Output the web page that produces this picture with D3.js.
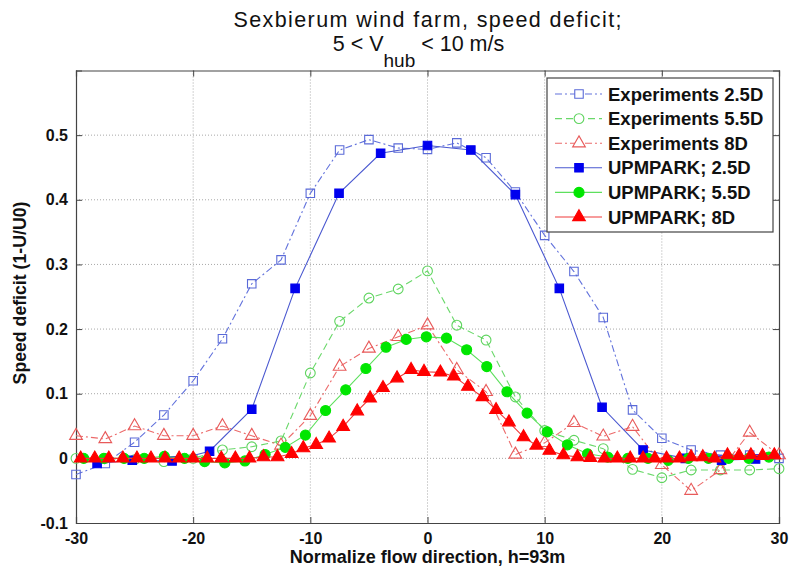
<!DOCTYPE html>
<html><head><meta charset="utf-8">
<script src="https://cdn.jsdelivr.net/npm/d3@7"></script>
<style>
body{margin:0;background:#fff}
text{font-family:"Liberation Sans",Arial,Helvetica,sans-serif}
</style></head>
<body><svg id="c" width="792" height="574"></svg>
<script>
// ---------- data ----------
const xTicks = [-30, -20, -10, 0, 10, 20, 30];
const yTicks = [-0.1, 0, 0.1, 0.2, 0.3, 0.4, 0.5];

const expX = [-30, -27.5, -25, -22.5, -20, -17.5, -15, -12.5, -10, -7.5, -5, -2.5, 0,
              2.5, 5, 7.5, 10, 12.5, 15, 17.5, 20, 22.5, 25, 27.5, 30];
const exp25 = [-0.025, -0.008, 0.025, 0.067, 0.12, 0.185, 0.27, 0.307, 0.41, 0.477, 0.493, 0.48, 0.478,
               0.488, 0.465, 0.412, 0.345, 0.289, 0.218, 0.075, 0.031, 0.013, 0.005, 0.005, 0.0];
const exp55 = [0.0, 0.0, -0.002, -0.005, 0.0, 0.013, 0.018, 0.027, 0.132, 0.212, 0.248, 0.262, 0.29,
               0.206, 0.183, 0.095, 0.043, 0.028, 0.015, -0.017, -0.03, -0.018, -0.018, -0.018, -0.016];
const exp8 = [0.035, 0.03, 0.05, 0.035, 0.035, 0.05, 0.035, 0.02, 0.066, 0.142, 0.17, 0.188, 0.206,
              0.137, 0.103, 0.006, 0.024, 0.055, 0.034, 0.049, -0.01, -0.05, -0.018, 0.04, 0.005];

const upmX25 = [-28.2, -25.2, -21.8, -18.6, -15, -11.3, -7.55, -4, 0, 3.7, 7.5, 11.25, 14.9, 18.4, 22, 25.1, 28];
const upm25 = [-0.008, -0.003, -0.004, 0.011, 0.076, 0.263, 0.41, 0.472, 0.484, 0.477, 0.408, 0.263, 0.079, 0.013, 0.0, -0.003, -0.001];

const upmX55 = [-29.34, -27.62, -25.9, -24.18, -22.46, -20.74, -19.02, -17.3, -15.58, -13.86, -12.14, -10.42,
                -8.7, -6.98, -5.26, -3.54, -1.82, -0.1, 1.62, 3.34, 5.06, 6.78, 8.5, 10.22, 11.94, 13.66,
                15.38, 17.1, 18.82, 20.54, 22.26, 23.98, 25.7, 27.42, 29.14];
const upm55 = [0.0, 0.0, 0.0, 0.0, 0.003, 0.0, -0.005, -0.007, -0.004, 0.006, 0.017, 0.036,
               0.074, 0.106, 0.139, 0.172, 0.184, 0.188, 0.186, 0.168, 0.142, 0.103, 0.07, 0.041, 0.021, 0.007,
               0.002, 0.0, 0.0, -0.003, 0.0, 0.0, 0.0, 0.0, 0.002];

const upmX8 = [-29.6, -28.4, -27.2, -26.0, -24.8, -23.6, -22.4, -21.2, -20.0, -18.8, -17.6, -16.4, -15.2,
               -14.0, -12.8, -11.6, -10.6, -9.5, -8.4, -7.2, -6.0, -4.9, -3.8, -2.6, -1.4, -0.3, 1.1, 2.25,
               3.45, 4.7, 5.85, 6.95, 8.2, 9.3, 10.4, 11.6, 12.8, 13.9, 15.1, 16.2, 17.3, 18.4, 19.4, 20.4,
               21.5, 22.5, 23.5, 24.5, 25.6, 26.6, 27.6, 28.6, 29.6];
const upm8 = [0.0, 0.0, 0.0, 0.0, 0.0, 0.0, 0.0, 0.0, 0.0, 0.0, 0.0, 0.0, 0.0,
              0.002, 0.002, 0.007, 0.016, 0.021, 0.031, 0.049, 0.073, 0.093, 0.109, 0.124, 0.137, 0.134, 0.133, 0.127,
              0.111, 0.095, 0.075, 0.056, 0.033, 0.02, 0.012, 0.005, 0.002, 0.001, 0.0, 0.0, 0.0, 0.0, 0.0, 0.0,
              0.0, 0.002, 0.002, 0.0, 0.005, 0.004, 0.005, 0.004, 0.005];

const seriesNames = ["Experiments 2.5D", "Experiments 5.5D", "Experiments 8D",
                     "UPMPARK; 2.5D", "UPMPARK; 5.5D", "UPMPARK; 8D"];

// ---------- styles ----------
const series = [
  {name: seriesNames[0], xs: expX, ys: exp25, line: "#6272dc", mStroke: "#5a6ad8", mFill: "none", sym: d3.symbolSquare, size: 72, dash: "7,3,2,3"},
  {name: seriesNames[1], xs: expX, ys: exp55, line: "#6ad86a", mStroke: "#5ed45e", mFill: "none", sym: d3.symbolCircle, size: 75, dash: "7,4"},
  {name: seriesNames[2], xs: expX, ys: exp8,  line: "#ec6a6a", mStroke: "#e85a5a", mFill: "none", sym: d3.symbolTriangle, size: 70, dash: "7,3,2,3"},
  {name: seriesNames[3], xs: upmX25, ys: upm25, line: "#4a58d0", mStroke: "#0000ee", mFill: "#0000ee", sym: d3.symbolSquare, size: 72, dash: null},
  {name: seriesNames[4], xs: upmX55, ys: upm55, line: "#5ee05e", mStroke: "#00e600", mFill: "#00e600", sym: d3.symbolCircle, size: 80, dash: null},
  {name: seriesNames[5], xs: upmX8, ys: upm8, line: "#f03a3a", mStroke: "#ff0000", mFill: "#ff0000", sym: d3.symbolTriangle, size: 70, dash: null}
];

// ---------- layout ----------
const svg = d3.select("#c");
const L = 76, R = 779, T = 70.5, B = 523;
const x = d3.scaleLinear().domain([-30, 30]).range([L, R]);
const y = d3.scaleLinear().domain([-0.1, 0.6]).range([B, T]);

svg.append("rect").attr("width", 792).attr("height", 574).attr("fill", "#fff");

// grid
const g = svg.append("g");
g.selectAll(".gx").data(xTicks.filter(d => d > -30 && d < 30)).join("line")
  .attr("x1", d => x(d)).attr("x2", d => x(d)).attr("y1", T).attr("y2", B)
  .attr("stroke", "#a8a8a8").attr("stroke-width", 1).attr("stroke-dasharray", "1,2");
g.selectAll(".gy").data(yTicks.filter(d => d > -0.1)).join("line")
  .attr("x1", L).attr("x2", R).attr("y1", d => y(d)).attr("y2", d => y(d))
  .attr("stroke", "#a8a8a8").attr("stroke-width", 1).attr("stroke-dasharray", "1,2");

// axes (MATLAB style inward ticks on all sides)
const fmt = d => (Math.abs(d) < 1e-9 ? "0" : String(+d.toFixed(1)));
const axB = svg.append("g").attr("transform", `translate(0,${B})`)
  .call(d3.axisBottom(x).tickValues(xTicks).tickSize(-6).tickPadding(10).tickFormat(fmt));
const axL = svg.append("g").attr("transform", `translate(${L},0)`)
  .call(d3.axisLeft(y).tickValues(yTicks).tickSize(-6).tickPadding(8).tickFormat(fmt));
const axT = svg.append("g").attr("transform", `translate(0,${T})`)
  .call(d3.axisTop(x).tickValues(xTicks).tickSize(-6).tickFormat(""));
const axR = svg.append("g").attr("transform", `translate(${R},0)`)
  .call(d3.axisRight(y).tickValues(yTicks).tickSize(-6).tickFormat(""));
[axB, axL, axT, axR].forEach(a => {
  a.select(".domain").attr("stroke", "#444").attr("stroke-width", 1.2);
  a.selectAll(".tick line").attr("stroke", "#444");
  a.selectAll("text").attr("fill", "#111").attr("font-size", 16).attr("font-weight", "bold")
    .attr("font-family", '"Liberation Sans",Arial,sans-serif');
});

// series
const plot = svg.append("g");
series.forEach(s => {
  const pts = s.xs.map((v, i) => [v, s.ys[i]]);
  plot.append("path").datum(pts)
    .attr("d", d3.line().x(d => x(d[0])).y(d => y(d[1])))
    .attr("fill", "none").attr("stroke", s.line).attr("stroke-width", 1.1)
    .attr("stroke-dasharray", s.dash);
  plot.selectAll(null).data(pts).join("path")
    .attr("transform", d => `translate(${x(d[0])},${y(d[1])})`)
    .attr("d", d3.symbol().type(s.sym).size(s.size))
    .attr("fill", s.mFill).attr("stroke", s.mStroke).attr("stroke-width", 1.1);
});

// title
svg.append("text").attr("x", 427.5).attr("y", 27).attr("text-anchor", "middle")
  .attr("font-size", 21.5).attr("fill", "#111")
  .attr("textLength", 388).attr("lengthAdjust", "spacing")
  .text("Sexbierum wind farm, speed deficit;");
const t2 = svg.append("text").attr("x", 418.5).attr("y", 51).attr("text-anchor", "middle")
  .attr("font-size", 21.5).attr("fill", "#111");
t2.append("tspan").text("5 < V");
t2.append("tspan").attr("dy", 16).attr("font-size", 19).text("hub");
t2.append("tspan").attr("dy", -16).text(" < 10 m/s");

// axis labels
svg.append("text").attr("x", 427.5).attr("y", 563).attr("text-anchor", "middle")
  .attr("font-size", 18).attr("font-weight", "bold").attr("fill", "#111")
  .text("Normalize flow direction, h=93m");
svg.append("text").attr("transform", "translate(26,293) rotate(-90)").attr("text-anchor", "middle")
  .attr("font-size", 17.7).attr("font-weight", "bold").attr("fill", "#111")
  .text("Speed deficit (1-U/U0)");

// legend
const lg = svg.append("g");
lg.append("rect").attr("x", 547).attr("y", 78).attr("width", 226).attr("height", 154)
  .attr("fill", "#fff").attr("stroke", "#444").attr("stroke-width", 1.2);
series.forEach((s, i) => {
  const cy = 94 + i * 24.6;
  lg.append("line").attr("x1", 555).attr("x2", 602).attr("y1", cy).attr("y2", cy)
    .attr("stroke", s.line).attr("stroke-width", 1.1).attr("stroke-dasharray", s.dash);
  lg.append("path").attr("transform", `translate(579,${cy})`)
    .attr("d", d3.symbol().type(s.sym).size(s.size))
    .attr("fill", s.mFill === "none" ? "#fff" : s.mFill).attr("stroke", s.mStroke).attr("stroke-width", 1.1);
  lg.append("text").attr("x", 608).attr("y", cy + 6.5).attr("font-size", 18.5)
    .attr("font-weight", "bold").attr("fill", "#111").text(s.name);
});
</script></body></html>
